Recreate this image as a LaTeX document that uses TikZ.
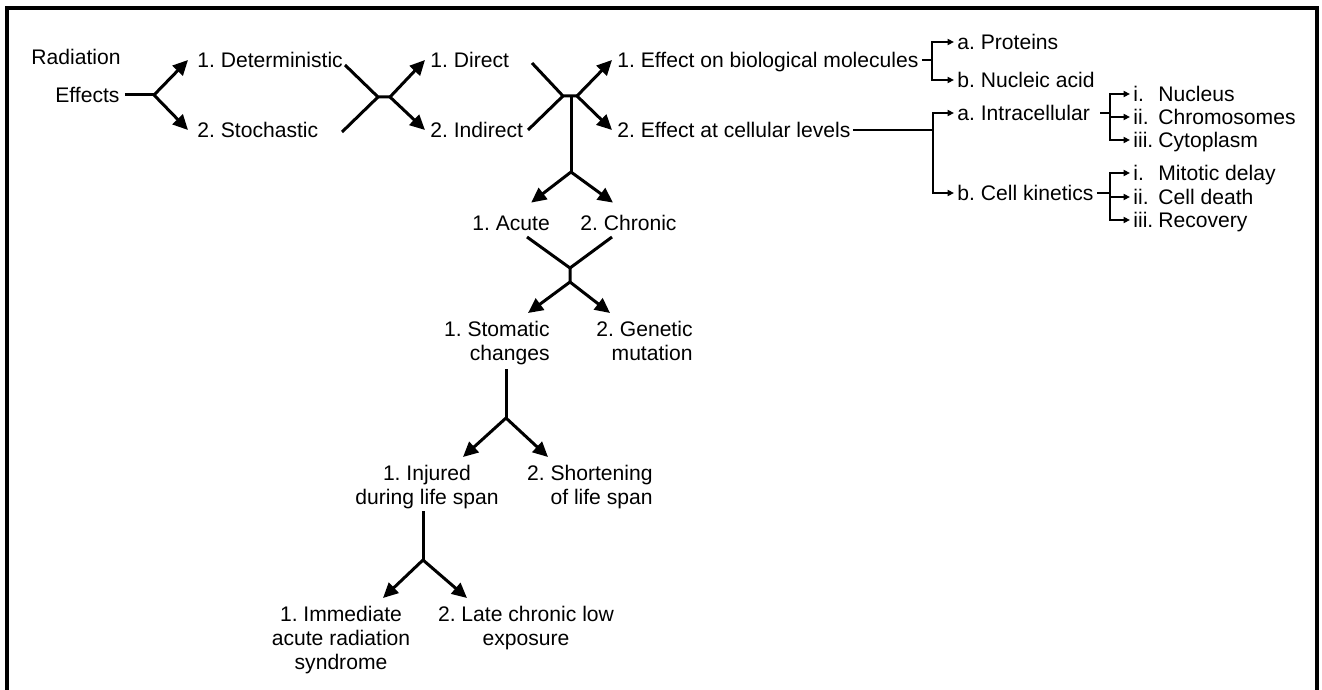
\documentclass[tikz,border=0pt]{standalone}
\usepackage{fontspec}
\setmainfont{Liberation Sans}
\usetikzlibrary{arrows.meta}
\frenchspacing
\begin{document}
\begin{tikzpicture}[x=0.5pt,y=-0.5pt,
  txt/.style={inner sep=0pt, font=\fontsize{10.55}{12}\selectfont, text height=9.5pt, text depth=2pt, anchor=west},
  mtxt/.style={inner sep=0pt, font=\fontsize{10.55}{12}\selectfont},
  conn/.style={line width=1.5pt},
  arr/.style={conn, -{Triangle[length=7.5pt,width=7pt]}},
  brk/.style={line width=1.1pt},
  sarr/.style={brk, -{Triangle[length=3.2pt,width=3pt]}},
  frame/.style={line width=1.8pt}]
\useasboundingbox (0,0) rectangle (1322,690);
\begin{scope}
  \clip (0,0) rectangle (1322,690);
  \draw[frame] (7,8) rectangle (1317,720);
\end{scope}

% text nodes
\node[txt] (rad) at (31,57) {Radiation};
\node[txt] (eff) at (55,95) {Effects};
\node[txt] (det) at (197,60) {1. Deterministic};
\node[txt] (sto) at (197,130) {2. Stochastic};
\node[txt] (dir) at (430,60) {1. Direct};
\node[txt] (ind) at (430,130) {2. Indirect};
\node[txt] (ebm) at (617,60) {1. Effect on biological molecules};
\node[txt] (ecl) at (617,130) {2. Effect at cellular levels};
\node[txt] (pro) at (957,42) {a. Proteins};
\node[txt] (nuc) at (957,80) {b. Nucleic acid};
\node[txt] (intra) at (957,113) {a. Intracellular};
\node[txt] (kin) at (957,193) {b. Cell kinetics};
\node[txt] (n1) at (1133,94) {\makebox[12.5pt][l]{i.}Nucleus};
\node[txt] (n2) at (1133,117) {\makebox[12.5pt][l]{ii.}Chromosomes};
\node[txt] (n3) at (1133,140) {\makebox[12.5pt][l]{iii.}Cytoplasm};
\node[txt] (k1) at (1133,173) {\makebox[12.5pt][l]{i.}Mitotic delay};
\node[txt] (k2) at (1133,197) {\makebox[12.5pt][l]{ii.}Cell death};
\node[txt] (k3) at (1133,220) {\makebox[12.5pt][l]{iii.}Recovery};
\node[txt] (acu) at (472,223) {1. Acute};
\node[txt] (chr) at (580,223) {2. Chronic};
\node[mtxt, align=right, anchor=north east] (stoc) at (550,321) {1. Stomatic\\changes};
\node[mtxt, align=right, anchor=north east] (gen) at (693,321) {2. Genetic\\mutation};
\node[mtxt, align=center, anchor=north] (inj) at (427,465) {1. Injured\\during life span};
\node[mtxt, align=right, anchor=north east] (sho) at (653,465) {2. Shortening\\of life span};
\node[mtxt, align=center, anchor=north] (imm) at (341,606) {1. Immediate\\acute radiation\\syndrome};
\node[mtxt, align=center, anchor=north] (late) at (526,606) {2. Late chronic low\\exposure};

% junctions
\coordinate (j1) at (154,95);
\coordinate (c1a) at (345,65);
\coordinate (c1b) at (342,132);
\coordinate (j2) at (378,97);
\coordinate (j2b) at (390,97);
\coordinate (c2a) at (532,63);
\coordinate (c2b) at (528,130);
\coordinate (j3) at (563,96);
\coordinate (j3m) at (571,96);
\coordinate (j3b) at (577,96);
\coordinate (j4) at (571,172);
\coordinate (c3a) at (527,237);
\coordinate (c3b) at (612,237);
\coordinate (j5) at (570,268);
\coordinate (j5b) at (570,282);
\coordinate (j6) at (506,418);
\coordinate (j7) at (423,560);
\coordinate (b1) at (932,60);
\coordinate (b2) at (933,130);
\coordinate (b3) at (1110,113);
\coordinate (b4) at (1110,193);

% level 1
\draw[conn, shorten <=2.5pt] (eff.east) -- (j1);
\draw[arr] (j1) -- ([xshift=-4.5pt]det.west);
\draw[arr] (j1) -- ([xshift=-4.5pt]sto.west);
% crossing 1
\draw[conn] (c1a) -- (j2) -- (j2b);
\draw[conn] (c1b) -- (j2);
\draw[arr] (j2b) -- ([xshift=-2.5pt]dir.west);
\draw[arr] (j2b) -- ([xshift=-2.5pt]ind.west);
% crossing 2
\draw[conn] (c2a) -- (j3) -- (j3b);
\draw[conn] (c2b) -- (j3);
\draw[arr] (j3b) -- ([xshift=-2.5pt]ebm.west);
\draw[arr] (j3b) -- ([xshift=-2.5pt]ecl.west);
\draw[conn] (j3m) -- (j4);
\draw[arr] (j4) -- ([xshift=-9.5pt,yshift=4.25pt]acu.north east);
\draw[arr] (j4) -- ([xshift=16.5pt,yshift=4.25pt]chr.north west);
% crossing 3
\draw[conn] (c3a) -- (j5) -- (j5b);
\draw[conn] (c3b) -- (j5);
\draw[arr] (j5b) -- ([xshift=-11pt,yshift=4pt]stoc.north east);
\draw[arr] (j5b) -- ([xshift=-41.5pt,yshift=4pt]gen.north east);
% stomatic branch
\draw[conn, shorten <=2pt] (j6 |- stoc.south) -- (j6);
\draw[arr] (j6) -- ([xshift=18pt,yshift=4pt]inj.north);
\draw[arr] (j6) -- ([xshift=-52.5pt,yshift=4pt]sho.north east);
% injured branch
\draw[conn, shorten <=1pt] (j7 |- inj.south) -- (j7);
\draw[arr] (j7) -- ([xshift=21pt,yshift=4pt]imm.north);
\draw[arr] (j7) -- ([xshift=-29.5pt,yshift=4pt]late.north);

% right brackets
\draw[brk, shorten <=1.5pt] (ebm.east) -- (b1);
\draw[sarr] (b1) |- ([xshift=-1.5pt]pro.west);
\draw[sarr] (b1) |- ([xshift=-1.5pt]nuc.west);
\draw[brk, shorten <=1pt] (ecl.east) -- (b2);
\draw[sarr] (b2) |- ([xshift=-1.5pt]intra.west);
\draw[sarr] (b2) |- ([xshift=-1.5pt]kin.west);
\draw[brk, shorten <=5pt] (intra.east) -- (b3);
\draw[sarr] (b3) |- ([xshift=-1.5pt]n1.west);
\draw[sarr] (b3) |- ([xshift=-1.5pt]n2.west);
\draw[sarr] (b3) |- ([xshift=-1.5pt]n3.west);
\draw[brk, shorten <=1.5pt] (kin.east) -- (b4);
\draw[sarr] (b4) |- ([xshift=-1.5pt]k1.west);
\draw[sarr] (b4) |- ([xshift=-1.5pt]k2.west);
\draw[sarr] (b4) |- ([xshift=-1.5pt]k3.west);
\end{tikzpicture}
\end{document}
